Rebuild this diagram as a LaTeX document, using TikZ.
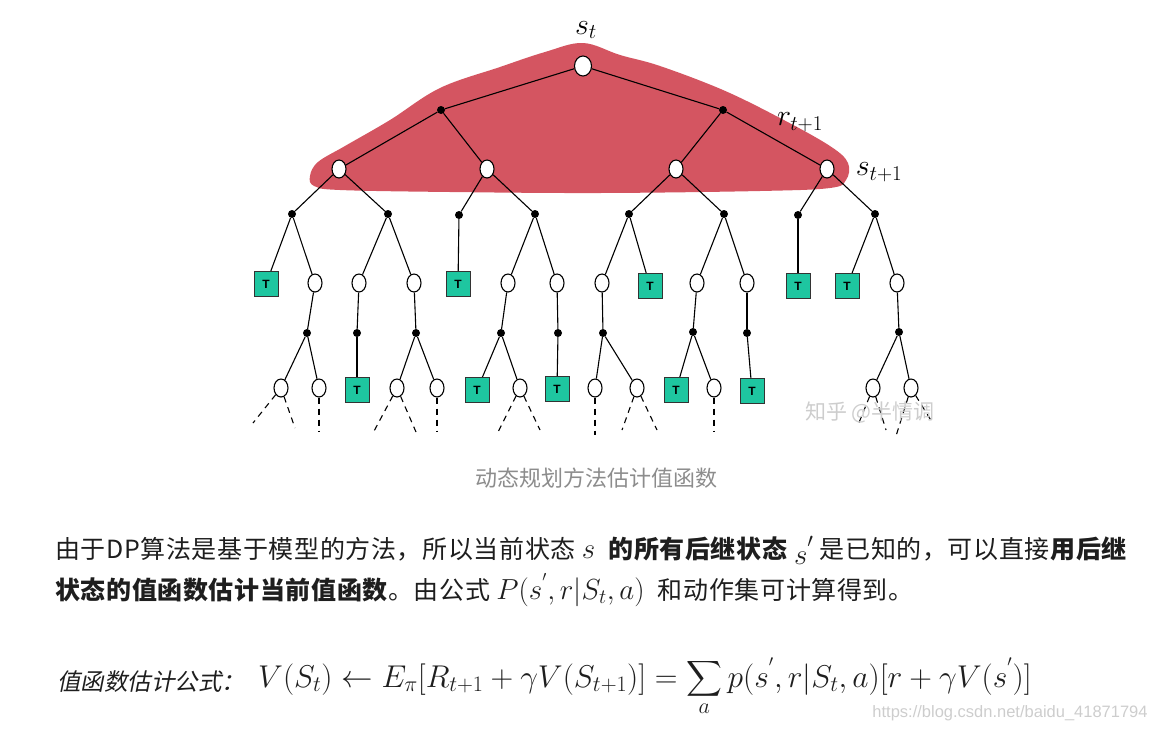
\RequirePackage{fix-cm}
\documentclass[tikz,border=0pt]{standalone}
\usepackage{amsmath}
\usepackage[no-math]{fontspec}
\setmainfont{Noto Sans CJK SC}
\setsansfont{Liberation Sans}
\newfontfamily\cjkslant{Noto Sans CJK SC}[FakeSlant=0.2]
\newfontfamily\cjkwide{Noto Sans CJK SC}[LetterSpace=2.5]
\usetikzlibrary{shapes.geometric}
\definecolor{blobred}{RGB}{212,85,97}
\definecolor{termteal}{RGB}{30,198,160}
\definecolor{capgray}{RGB}{140,140,140}
\definecolor{txtdark}{RGB}{30,30,30}
\definecolor{markgray}{RGB}{205,205,205}
\newcommand{\bigmath}[1]{{\fontsize{29}{29}\selectfont$#1$}}

\begin{document}
\begin{tikzpicture}[x=1pt, y=-1pt,
  state/.style={ellipse, draw=black, fill=white, line width=1.1pt,
                minimum width=14pt, minimum height=18pt, inner sep=0pt},
  act/.style={circle, fill=black, minimum size=8pt, inner sep=0pt},
  term/.style={rectangle, draw=black!80, fill=termteal, line width=1pt,
               minimum width=24pt, minimum height=25pt, inner sep=0pt,
               font=\sffamily\bfseries\fontsize{12}{12}\selectfont},
  link/.style={line width=1.1pt},
  openlink/.style={line width=1.1pt, dash pattern=on 6pt off 5pt},
  lbl/.style={font=\fontsize{30}{30}\selectfont},
  para/.style={anchor=base west, inner sep=0pt, text=txtdark,
               font=\cjkwide\fontsize{25}{25}\selectfont}
]
  \useasboundingbox (0,0) rectangle (1155,731);

  % highlighted one-step backup
  \fill[blobred] plot[smooth cycle, tension=0.6] coordinates {
    (310,176) (318,162) (345,146) (390,120) (440,88) (500,67) (545,52)
    (583,43) (620,55) (660,66) (723,90) (780,118) (830,146) (848,163)
    (846,180) (830,188) (760,191) (600,193) (450,192) (340,190) (314,186)};

  % root and first two levels
  \node[state, minimum width=17pt, minimum height=20pt] (st) at (583,66) {};
  \node[act] (a1) at (441,110) {};
  \node[act] (a2) at (723,110) {};
  \node[state] (b1) at (339,169) {};
  \node[state] (b2) at (487,169) {};
  \node[state] (b3) at (676,169) {};
  \node[state] (b4) at (827,169) {};

  % actions below the successor states
  \node[act] (c1) at (292,214) {};
  \node[act] (c2) at (388,214) {};
  \node[act] (c3) at (459,215) {};
  \node[act] (c4) at (535,214) {};
  \node[act] (c5) at (629,214) {};
  \node[act] (c6) at (724,214) {};
  \node[act] (c7) at (798,215) {};
  \node[act] (c8) at (875,214) {};

  % third level states
  \node[term]  (d1)  at (266,284) {T};
  \node[state] (d2)  at (315,283) {};
  \node[state] (d3)  at (359,283) {};
  \node[state] (d4)  at (414,283) {};
  \node[term]  (d5)  at (458,284) {T};
  \node[state] (d6)  at (508,283) {};
  \node[state] (d7)  at (557,283) {};
  \node[state] (d8)  at (602,283) {};
  \node[term]  (d9)  at (650,286) {T};
  \node[state] (d10) at (697,283) {};
  \node[state] (d11) at (747,283) {};
  \node[term]  (d12) at (798,286) {T};
  \node[term]  (d13) at (847,286) {T};
  \node[state] (d14) at (897,283) {};

  \node[act] (e1) at (307,333) {};
  \node[act] (e2) at (357,333) {};
  \node[act] (e3) at (416,333) {};
  \node[act] (e4) at (501,333) {};
  \node[act] (e5) at (558,333) {};
  \node[act] (e6) at (603,333) {};
  \node[act] (e7) at (693,332) {};
  \node[act] (e8) at (747,333) {};
  \node[act] (e9) at (899,332) {};

  % fourth level states
  \node[state] (f1)  at (281,388) {};
  \node[state] (f2)  at (319,388) {};
  \node[term]  (f3)  at (357,390) {T};
  \node[state] (f4)  at (397,388) {};
  \node[state] (f5)  at (437,388) {};
  \node[term]  (f6)  at (477,390) {T};
  \node[state] (f7)  at (520,388) {};
  \node[term]  (f8)  at (557,389) {T};
  \node[state] (f9)  at (595,388) {};
  \node[state] (f10) at (637,388) {};
  \node[term]  (f11) at (676,390) {T};
  \node[state] (f12) at (714,388) {};
  \node[term]  (f13) at (752,391) {T};
  \node[state] (f14) at (873,388) {};
  \node[state] (f15) at (911,388) {};

  % open ends
  \coordinate (g1)  at (253,423);
  \coordinate (g2)  at (295,428);
  \coordinate (g3)  at (319,432);
  \coordinate (g4)  at (373,433);
  \coordinate (g5)  at (416,432);
  \coordinate (g6)  at (437,432);
  \coordinate (g7)  at (498,432);
  \coordinate (g8)  at (540,430);
  \coordinate (g9)  at (595,435);
  \coordinate (g10) at (622,430);
  \coordinate (g11) at (657,430);
  \coordinate (g12) at (714,432);
  \coordinate (g13) at (858,425);
  \coordinate (g14) at (886,430);
  \coordinate (g15) at (896,436);
  \coordinate (g16) at (932,422);

  \foreach \p/\c in {st/a1, st/a2, a1/b1, a1/b2, a2/b3, a2/b4,
                     b1/c1, b1/c2, b2/c3, b2/c4, b3/c5, b3/c6, b4/c7, b4/c8,
                     c1/d1, c1/d2, c2/d3, c2/d4, c3/d5, c4/d6, c4/d7,
                     c5/d8, c5/d9, c6/d10, c6/d11, c7/d12, c8/d13, c8/d14,
                     d2/e1, d3/e2, d4/e3, d6/e4, d7/e5, d8/e6, d10/e7,
                     d11/e8, d14/e9,
                     e1/f1, e1/f2, e2/f3, e3/f4, e3/f5, e4/f6, e4/f7,
                     e5/f8, e6/f9, e6/f10, e7/f11, e7/f12, e8/f13,
                     e9/f14, e9/f15}
    \draw[link] (\p) -- (\c);

  \foreach \p/\c in {f1/g1, f1/g2, f2/g3, f4/g4, f4/g5, f5/g6, f7/g7, f7/g8,
                     f9/g9, f10/g10, f10/g11, f12/g12, f14/g13, f14/g14,
                     f15/g15, f15/g16}
    \draw[openlink] (\p) -- (\c);

  \node[lbl] (lst)  at (586,30)  {$s_t$};
  \node[lbl] (lrt)  at (800,122) {$r_{t+1}$};
  \node[lbl] (lst1) at (879,172) {$s_{t+1}$};

  \node[text=markgray, font=\fontsize{21}{21}\selectfont] (zhihu) at (870,412) {知乎 @半情调};

  % caption and notes
  \node[text=capgray, font=\fontsize{22}{22}\selectfont] (cap) at (596,478) {动态规划方法估计值函数};

  \node[para] (line1) at (55,558) {由于DP算法是基于模型的方法，所以当前状态 \bigmath{s}\; \textbf{的所有后继状态} \raisebox{-6pt}{\bigmath{s}}\bigmath{'} 是已知的，可以直接\textbf{用后继}};
  \node[para] (line2) at (55,599) {\textbf{状态的值函数估计当前值函数}。由公式 \bigmath{P(s^{'},r|S_t,a)}\; 和动作集可计算得到。};

  \node[para, font=\fontsize{23.5}{23.5}\selectfont] (flabel) at (57,690) {\cjkslant 值函数估计公式：};
  \node[para, font=\fontsize{31.5}{31.5}\selectfont] (formula) at (258,687)
    {$\displaystyle V(S_t)\leftarrow E_\pi[R_{t+1}+\gamma V(S_{t+1})]=\sum_a p(s^{'},r|S_t,a)[r+\gamma V(s^{'})]$};

  \node[text=markgray, font=\sffamily\fontsize{16.5}{16.5}\selectfont] (csdn) at (1010,713) {https://blog.csdn.net/baidu\_41871794};
\end{tikzpicture}
\end{document}
